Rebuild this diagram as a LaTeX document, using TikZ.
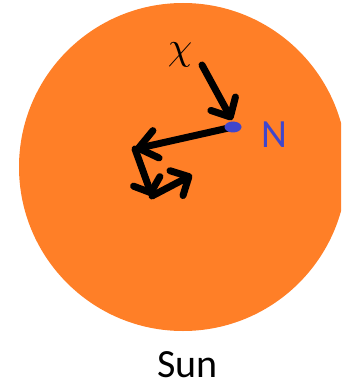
\documentclass[tikz,border=0pt]{standalone}
\usepackage{fontspec}
\setmainfont{Carlito}
\usetikzlibrary{arrows.meta}
\definecolor{sunorange}{HTML}{FF7F27}
\definecolor{dotblue}{HTML}{4046CC}
\tikzset{
  walk/.style={line width=7pt, line cap=round, line join=round, black},
  barb/.style={-{Straight Barb[length=#1, width=28pt, round]}},
  lbl/.style={inner sep=0pt, text depth=0pt, font=\fontsize{40}{40}\selectfont}
}
\begin{document}
\begin{tikzpicture}[x=1pt,y=-1pt]
\useasboundingbox (0,0) rectangle (341,382);
\begin{scope}
\clip (0,0) rectangle (341,382);
\fill[sunorange] (183,167) circle[radius=164];
\end{scope}
\coordinate (s) at (202,65);
\coordinate (n) at (233,127);
\coordinate (p1) at (135,149);
\coordinate (p2) at (152,196);
\coordinate (p3) at (192,175);
\draw[walk, barb=15pt] (s) -- ([shift={(-1,-7)}]n);
\draw[walk, barb=18pt] (n) -- (p1);
\draw[walk, barb=12pt] (p1) -- (p2);
\draw[walk, barb=14pt] (p2) -- (p3);
\fill[dotblue] (n) ellipse[x radius=8.5, y radius=5.5];
\node[inner sep=0pt, anchor=center] (chi) at (180,55) {\scalebox{3.9}{$\chi$}};
\node[lbl, anchor=base west, text=dotblue] (N) at (261,147) {N};
\node[lbl, anchor=base] (sun) at (187.5,377) {Sun};
\end{tikzpicture}
\end{document}
